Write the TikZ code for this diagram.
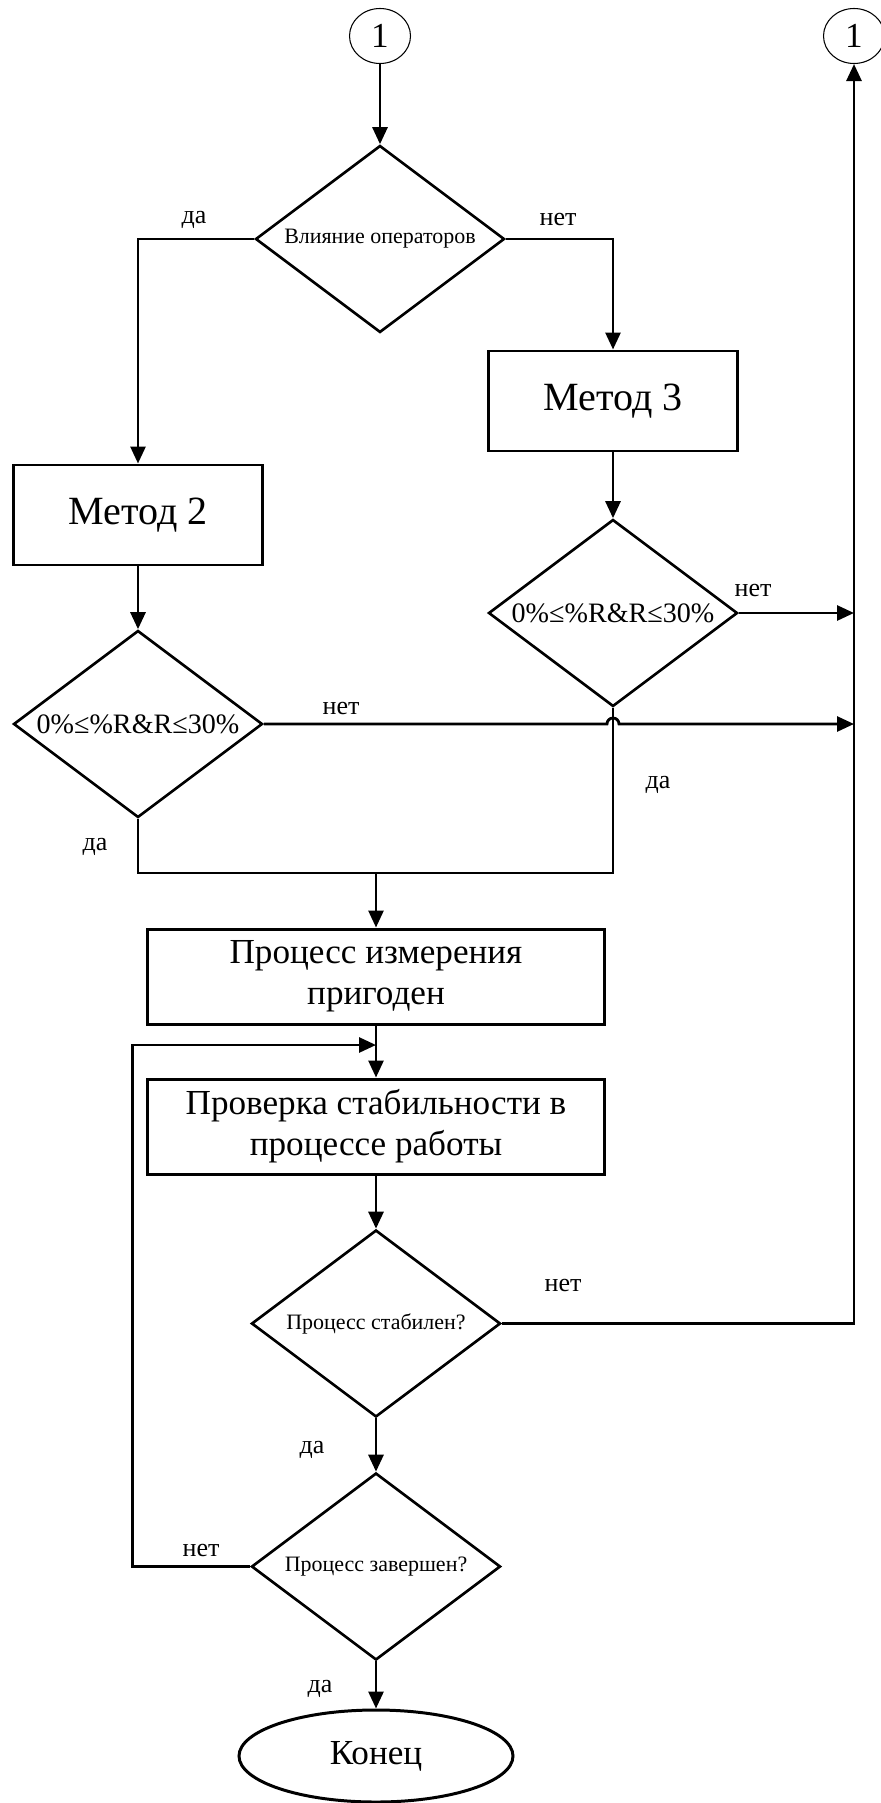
\documentclass[tikz,border=0pt]{standalone}
\usepackage{fontspec}
\setmainfont{Liberation Serif}
\usepackage{tikz}
\usetikzlibrary{arrows.meta, positioning, shapes.geometric, calc}

\begin{document}
\begin{tikzpicture}[
            connector/.style={draw, ellipse, line width=0.6pt, inner sep=0pt, minimum width=1.22cm, minimum height=1.1cm, font=\fontsize{20}{24}\selectfont},
            methbox/.style={draw, rectangle, line width=1.7pt, minimum width=4.98cm, minimum height=2cm, font=\fontsize{22.8}{27}\selectfont},
            procbox/.style={draw, rectangle, line width=1.7pt, minimum width=9.14cm, minimum height=1.9cm, align=center, font=\fontsize{20}{23.5}\selectfont},
            decision/.style={draw, diamond, line width=1.5pt, aspect=1.34, inner sep=0pt, minimum width=4.98cm, minimum height=3.74cm},
            question/.style={decision, font=\fontsize{12.5}{15}\selectfont},
            rangecheck/.style={decision, font=\fontsize{16}{19}\selectfont},
            terminal/.style={draw, ellipse, line width=1.7pt, minimum width=5.48cm, minimum height=1.84cm, font=\fontsize{20}{24}\selectfont},
            lbl/.style={font=\fontsize{14.8}{17}\selectfont},
            line/.style={line width=1.6pt},
            arrow/.style={-{Triangle[length=3.4mm, width=3mm]}, line width=1.6pt}
        ]
        \useasboundingbox (0,0) rectangle (17.62,-36.06);

        % --- connectors and first choice ---
        \node[connector] (top1) at (7.6, -0.72) {1};
        \node[connector] (right1) at (17.08, -0.72) {1};
        \node[question] (infl) at (7.6, -4.78) {Влияние операторов};
        \draw[arrow] (top1)--(infl);

        % --- method branches ---
        \node[methbox] (meth3) at (12.26, -8.02) {Метод 3};
        \node[methbox] (meth2) at (2.76, -10.3) {Метод 2};
        \node[rangecheck] (chk3) at (12.26, -12.26) {0\%≤\%R\&R≤30\%};
        \node[rangecheck] (chk2) at (2.76, -14.48) {0\%≤\%R\&R≤30\%};
        \draw[arrow] (infl.west) -| (meth2.north);
        \draw[arrow] (infl.east) -| (meth3.north);
        \draw[arrow] (meth3)--(chk3);
        \draw[arrow] (meth2)--(chk2);
        \draw[arrow] (chk3.east)--(chk3.east -| right1);
        \draw[arrow] (chk2.east)--([xshift=-1.2mm]chk3.south |- chk2.east)
            arc[start angle=180, end angle=0, radius=1.2mm]--(chk2.east -| right1);

        % --- merge ---
        \coordinate (merge) at (7.52, -17.46);
        \draw[line] (chk2.south) |- (chk3.south |- merge)--(chk3.south);

        % --- process ---
        \node[procbox] (fit) at (7.52, -19.53) {Процесс измерения\\пригоден};
        \node[procbox] (stab) at (7.52, -22.53) {Проверка стабильности в\\процессе работы};
        \node[question] (isstab) at (7.52, -26.47) {Процесс стабилен?};
        \node[question] (isdone) at (7.52, -31.33) {Процесс завершен?};
        \node[terminal] (fin) at (7.52, -35.12) {Конец};
        \coordinate (loopin) at (7.52, -20.9);
        \draw[arrow] (merge)--(fit);
        \draw[arrow] (fit)--(stab);
        \draw[arrow] (stab)--(isstab);
        \draw[arrow] (isstab)--(isdone);
        \draw[arrow] (isdone)--(fin);
        \draw[arrow] (isstab.east) -| (right1.south);
        \draw[arrow] (isdone.west)--++(-2.35,0) |- (loopin);

        % --- labels ---
        \node[lbl] (yes1) at (3.88, -4.4) {да};
        \node[lbl] (no1) at (11.16, -4.4) {нет};
        \node[lbl] (no3) at (15.06, -11.8) {нет};
        \node[lbl] (no2) at (6.82, -14.16) {нет};
        \node[lbl] (yes3) at (13.16, -15.7) {да};
        \node[lbl] (yes2) at (1.9, -16.94) {да};
        \node[lbl] (nostab) at (11.26, -25.7) {нет};
        \node[lbl] (yesstab) at (6.24, -29.0) {да};
        \node[lbl] (nodone) at (4.02, -31.0) {нет};
        \node[lbl] (yesdone) at (6.4, -33.78) {да};

        \end{tikzpicture}
\end{document}
